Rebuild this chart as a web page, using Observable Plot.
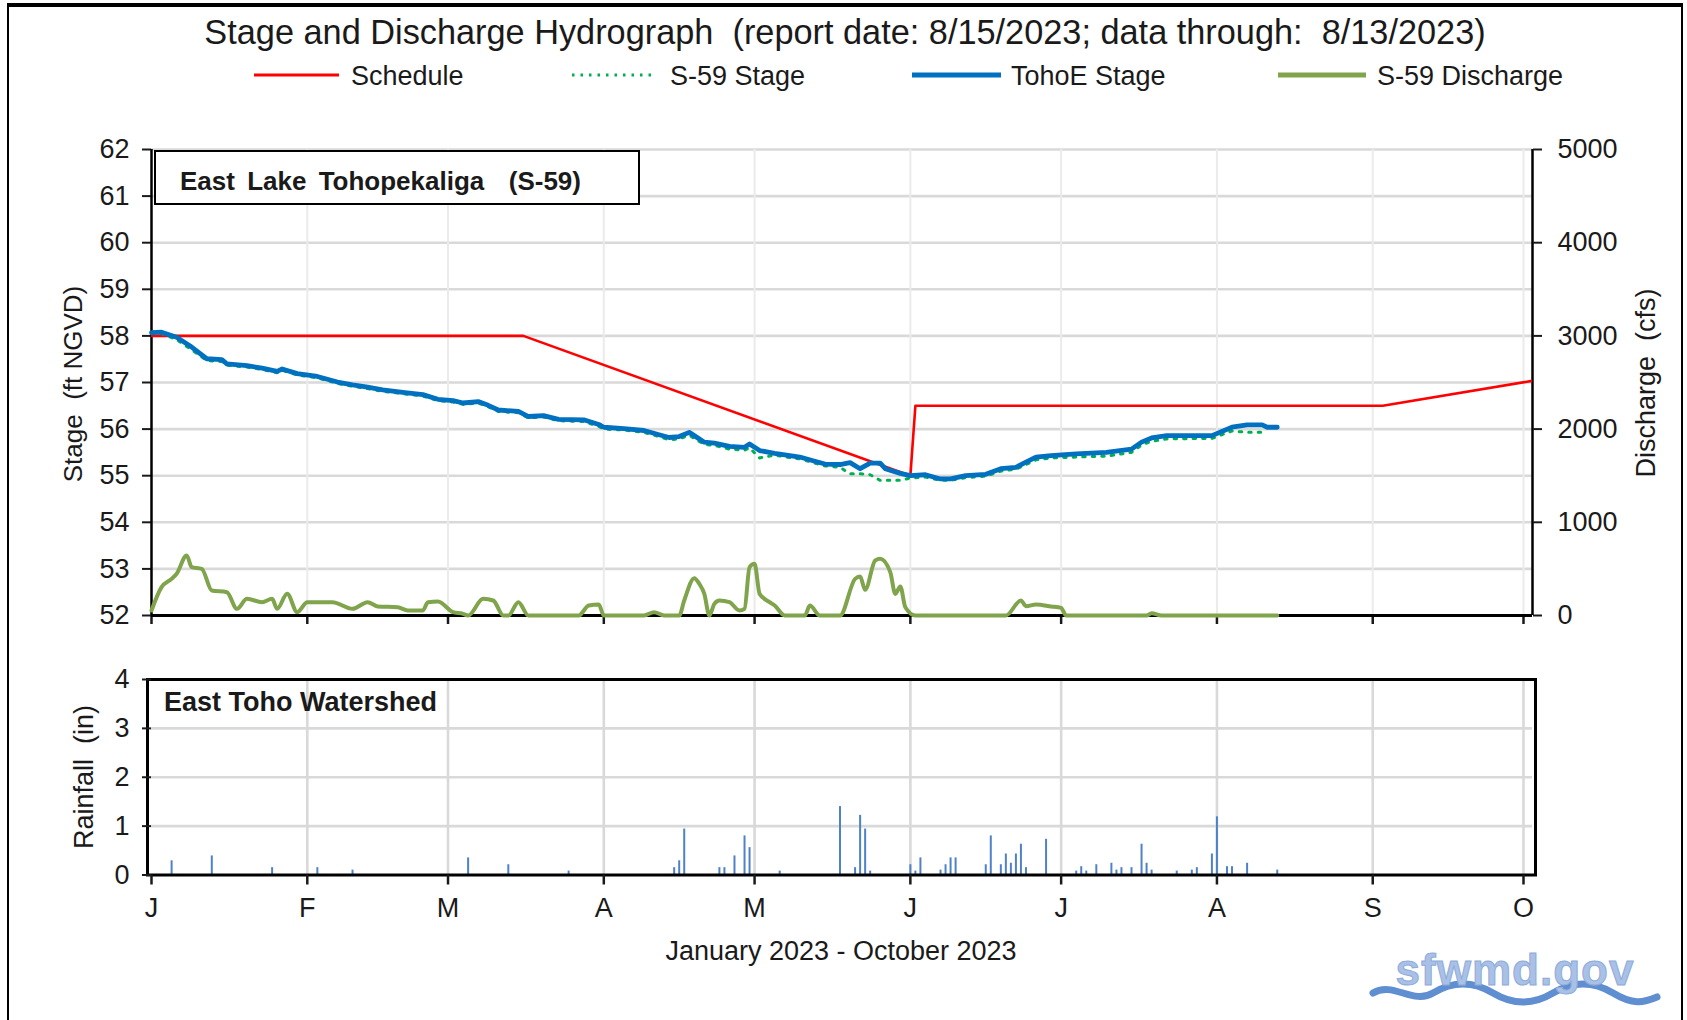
<!DOCTYPE html>
<html>
<head>
<meta charset="utf-8">
<script src="https://cdn.jsdelivr.net/npm/d3@7"></script>
<script src="https://cdn.jsdelivr.net/npm/@observablehq/plot@0.6"></script>
<style>
  html, body { margin: 0; padding: 0; background: #fff; }
  #wrap { position: relative; width: 1687px; height: 1020px; overflow: hidden; background: #fff;
          font-family: "Liberation Sans", Arial, sans-serif; color: #1a1a1a; }
  #wrap svg.plotsvg { position: absolute; left: 0; }
  .t { position: absolute; white-space: pre; line-height: 1; }
  .c { transform: translate(-50%, -50%); }
  .l { transform: translate(0, -50%); }
  .rot { transform: translate(-50%, -50%) rotate(-90deg); }
</style>
</head>
<body>
<div id="wrap"></div>
<script>
// ---------------- DATA ----------------
const YEAR = "2023";

// Regulation schedule (ft NGVD)
const scheduleDates = ["01-01", "03-16", "06-01", "06-02", "09-03", "10-03"];
const scheduleStage = [58.0, 58.0, 55.0, 56.5, 56.5, 57.04];

// Daily lake stages (ft NGVD)
const stageDates = ["01-01","01-03","01-06","01-09","01-12","01-15","01-16","01-20","01-23","01-26","01-27","01-30",
  "02-03","02-07","02-10","02-13","02-16","02-20","02-24","02-27",
  "03-02","03-04","03-07","03-09","03-11","03-15","03-17","03-20","03-23","03-28","03-31",
  "04-01","04-05","04-09","04-12","04-14","04-16","04-18","04-19","04-21","04-23","04-26","04-29","04-30",
  "05-02","05-05","05-08","05-10","05-13","05-15","05-18","05-20","05-22","05-24","05-26","05-27","05-30",
  "06-01","06-04","06-07","06-09","06-12","06-16","06-19","06-22","06-24","06-26","06-29",
  "07-04","07-10","07-15","07-17","07-19","07-22","07-31",
  "08-04","08-07","08-10","08-11","08-13"];
const tohoEStage = [58.07,58.08,57.97,57.76,57.51,57.49,57.40,57.36,57.31,57.24,57.29,57.19,
  57.13,57.01,56.95,56.90,56.84,56.79,56.74,56.64,
  56.61,56.56,56.59,56.51,56.41,56.38,56.27,56.29,56.21,56.20,56.10,
  56.04,56.01,55.97,55.88,55.82,55.84,55.93,55.86,55.72,55.70,55.63,55.61,55.68,
  55.54,55.48,55.43,55.40,55.31,55.25,55.24,55.28,55.15,55.27,55.27,55.15,55.05,
  55.00,55.02,54.93,54.93,55.00,55.03,55.15,55.18,55.29,55.40,55.43,
  55.47,55.50,55.57,55.72,55.81,55.86,55.86,
  56.04,56.09,56.09,56.04,56.04];
const s59Stage = [58.05,58.05,57.92,57.70,57.47,57.45,57.37,57.33,57.28,57.21,57.26,57.16,
  57.10,56.98,56.92,56.87,56.81,56.76,56.71,56.61,
  56.58,56.53,56.56,56.48,56.38,56.35,56.24,56.26,56.18,56.16,56.06,
  56.00,55.98,55.93,55.84,55.77,55.79,55.87,55.80,55.67,55.65,55.57,55.55,55.60,
  55.38,55.44,55.39,55.36,55.27,55.21,55.18,55.04,55.04,55.02,54.90,54.90,54.90,
  54.95,54.97,54.90,54.90,54.96,54.99,55.10,55.14,55.24,55.34,55.38,
  55.40,55.42,55.50,55.66,55.74,55.79,55.80,
  55.96,55.93,55.93,55.93,null];

// S-59 discharge (cfs)
const dischargeDates = ["01-01","01-03","01-05","01-06","01-08","01-09","01-11","01-13","01-16","01-18","01-20","01-23","01-25","01-26","01-28","01-30",
  "02-01","02-06","02-10","02-13","02-15","02-19","02-21","02-24","02-25","02-27",
  "03-02","03-04","03-05","03-08","03-10","03-12","03-13","03-15","03-17","03-27","03-29","03-31",
  "04-01","04-09","04-11","04-13","04-16","04-17","04-19","04-20","04-21","04-22","04-23","04-24","04-26","04-28","04-29","04-30",
  "05-01","05-02","05-04","05-05","05-07","05-11","05-12","05-14","05-18","05-21","05-22","05-23","05-25","05-26","05-28","05-29","05-30","05-31",
  "06-02","06-20","06-23","06-24","06-26","06-29",
  "07-01","07-02","07-18","07-19","07-21",
  "08-13"];
const dischargeCfs = [54,304,393,447,644,519,501,268,250,72,179,143,179,72,233,36,
  143,143,72,143,97,89,54,54,143,150,
  36,18,0,179,161,0,0,143,0,0,107,118,
  0,0,36,0,0,161,400,340,232,0,125,161,143,54,72,519,
  554,232,143,107,0,0,107,0,0,393,418,275,590,608,465,232,311,89,
  0,0,161,100,118,97,
  82,0,0,25,0,
  0];

// East Toho watershed daily rainfall (in)
const rainDates = ["01-05","01-13","01-25","02-03","02-10","03-05","03-13","03-25",
  "04-15","04-16","04-17","04-24","04-25","04-27","04-29","04-30",
  "05-06","05-18","05-21","05-22","05-23","05-24",
  "06-01","06-02","06-03","06-07","06-08","06-09","06-10","06-16","06-17","06-19","06-20","06-21","06-22","06-23","06-24","06-28",
  "07-04","07-05","07-06","07-08","07-11","07-12","07-13","07-15","07-17","07-18","07-19","07-24","07-27","07-28","07-31",
  "08-01","08-03","08-04","08-07","08-13"];
const rainInches = [0.29,0.39,0.15,0.15,0.10,0.35,0.21,0.08,
  0.15,0.29,0.94,0.15,0.15,0.39,0.80,0.56,
  0.08,1.40,0.15,1.22,0.94,0.08,
  0.21,0.08,0.35,0.10,0.21,0.35,0.35,0.21,0.80,0.21,0.43,0.24,0.43,0.63,0.15,0.73,
  0.08,0.17,0.08,0.21,0.24,0.10,0.15,0.15,0.63,0.24,0.10,0.08,0.10,0.15,0.43,
  1.19,0.17,0.17,0.24,0.10];

// Axis ticks
const stageTicks = [52,53,54,55,56,57,58,59,60,61,62];
const dischargeTicks = [0,1000,2000,3000,4000,5000];
const rainTicks = [0,1,2,3,4];
const monthLabels = ["J","F","M","A","M","J","J","A","S","O"];

// ---------------- TABLES ----------------
const d = s => new Date(`${YEAR}-${s}T00:00:00Z`);
const schedule = scheduleDates.map((s, i) => ({date: d(s), v: scheduleStage[i]}));
const tohoE = stageDates.map((s, i) => ({date: d(s), v: tohoEStage[i]}));
const s59 = stageDates.map((s, i) => ({date: d(s), v: s59Stage[i]}));
const discharge = dischargeDates.map((s, i) => ({date: d(s), q: dischargeCfs[i]}));
const rain = rainDates.map((s, i) => ({date: d(s), r: rainInches[i]}));
const months = d3.utcMonth.range(d("01-01"), d("10-02"));
const xDomain = [d("01-01"), new Date(`${YEAR}-10-02T19:00:00Z`)];

const W = 1687, ML = 151, MR = 155;
const FONT = '"Liberation Sans", Arial, sans-serif';
const baseStyle = {fontFamily: FONT, fontSize: "27px", color: "#1a1a1a", background: "transparent", overflow: "visible"};

// ---------------- UPPER: stage ----------------
const stagePlot = Plot.plot({
  width: W, height: 640, marginLeft: ML, marginRight: MR, marginTop: 149, marginBottom: 25,
  style: baseStyle,
  x: {type: "utc", domain: xDomain},
  y: {domain: [52, 62]},
  marks: [
    Plot.gridY(stageTicks.slice(1), {stroke: "#d9d9d9", strokeWidth: 2.6, strokeOpacity: 1}),
    Plot.gridX(months.slice(1), {stroke: "#ebebeb", strokeWidth: 2, strokeOpacity: 1}),
    Plot.axisY(stageTicks, {anchor: "left", tickSize: 9, tickPadding: 13, fontSize: 27, label: null, strokeWidth: 2}),
    Plot.axisX(months, {anchor: "bottom", tickSize: 9, tickFormat: () => "", label: null, strokeWidth: 2.5}),
    Plot.ruleX([xDomain[0]], {stroke: "#000", strokeWidth: 2.5}),
    Plot.ruleX([xDomain[1]], {stroke: "#000", strokeWidth: 2.5}),
    Plot.ruleY([52], {stroke: "#000", strokeWidth: 3}),
    Plot.line(schedule, {x: "date", y: "v", stroke: "#ff0000", strokeWidth: 2.6, clip: true}),
    Plot.line(s59, {x: "date", y: "v", stroke: "#00b050", strokeWidth: 3, strokeDasharray: "2.5,7"}),
    Plot.line(tohoE, {x: "date", y: "v", stroke: "#0070c0", strokeWidth: 4.8})
  ]
});
stagePlot.classList.add("plotsvg");
stagePlot.style.top = "0px";

// ---------------- UPPER: discharge (right axis) ----------------
const dischargePlot = Plot.plot({
  width: W, height: 640, marginLeft: ML, marginRight: MR, marginTop: 149, marginBottom: 25,
  style: baseStyle,
  x: {type: "utc", domain: xDomain, axis: null},
  y: {domain: [0, 5000]},
  marks: [
    Plot.axisY(dischargeTicks, {anchor: "right", tickSize: 9, tickPadding: 16, fontSize: 27, label: null, strokeWidth: 2,
      tickFormat: v => String(v)}),
    Plot.line(discharge, {x: "date", y: "q", stroke: "#80a44c", strokeWidth: 4, curve: "monotone-x"})
  ]
});
dischargePlot.classList.add("plotsvg");
dischargePlot.style.top = "0px";

// ---------------- LOWER: rainfall ----------------
const rainPlot = Plot.plot({
  width: W, height: 380, marginLeft: ML, marginRight: MR, marginTop: 39, marginBottom: 145.5,
  style: baseStyle,
  x: {type: "utc", domain: xDomain},
  y: {domain: [0, 4]},
  marks: [
    Plot.gridY(rainTicks.slice(1, 4), {stroke: "#d9d9d9", strokeWidth: 2.6, strokeOpacity: 1}),
    Plot.gridX(months.slice(1), {stroke: "#d9d9d9", strokeWidth: 2.6, strokeOpacity: 1}),
    Plot.ruleX(rain, {x: "date", y1: 0, y2: "r", stroke: "#4f81c7", strokeWidth: 2}),
    Plot.frame({stroke: "#000", strokeWidth: 3, insetLeft: -4, insetRight: -3}),
    Plot.axisY(rainTicks, {anchor: "left", tickSize: 9, tickPadding: 13, fontSize: 27, label: null, strokeWidth: 2}),
    Plot.axisX(months, {anchor: "bottom", tickSize: 10, tickPadding: 13, fontSize: 27, label: null, strokeWidth: 2.5,
      tickFormat: (t, i) => monthLabels[i]})
  ]
});
rainPlot.classList.add("plotsvg");
rainPlot.style.top = "640px";

const wrap = document.getElementById("wrap");
wrap.append(stagePlot, dischargePlot, rainPlot);

// ---------------- TEXT / LEGEND OVERLAYS ----------------
const html = `
<div style="position:absolute;left:7px;top:3px;width:1672px;height:1100px;border-top:4px solid #000;border-left:2px solid #000;border-right:2px solid #000;"></div>
<div class="t c" style="left:845px;top:32px;font-size:34.3px;">Stage and Discharge Hydrograph  (report date: 8/15/2023; data through:  8/13/2023)</div>

<svg style="position:absolute;left:0;top:60px" width="1687" height="30">
  <line x1="254" x2="339" y1="15" y2="15" stroke="#ff0000" stroke-width="3"/>
  <line x1="572" x2="656" y1="15" y2="15" stroke="#00b050" stroke-width="3" stroke-dasharray="2.5,6"/>
  <line x1="912" x2="1001" y1="15" y2="15" stroke="#0070c0" stroke-width="5"/>
  <line x1="1278" x2="1366" y1="15" y2="15" stroke="#80a44c" stroke-width="5"/>
</svg>
<div class="t l" style="left:351px;top:76px;font-size:27px;">Schedule</div>
<div class="t l" style="left:670px;top:76px;font-size:27px;">S-59 Stage</div>
<div class="t l" style="left:1011px;top:76px;font-size:27px;">TohoE Stage</div>
<div class="t l" style="left:1377px;top:76px;font-size:27px;">S-59 Discharge</div>

<div style="position:absolute;left:154px;top:150px;width:482px;height:51px;border:2.5px solid #000;background:#fff;"></div>
<div class="t l" style="left:180px;top:181px;font-size:26px;font-weight:bold;word-spacing:5px;">East Lake Tohopekaliga  (S-59)</div>

<div class="t rot" style="left:73px;top:384px;font-size:26px;">Stage  (ft NGVD)</div>
<div class="t rot" style="left:1646px;top:383px;font-size:27px;">Discharge  (cfs)</div>
<div class="t rot" style="left:84px;top:777px;font-size:27px;">Rainfall  (in)</div>

<div class="t l" style="left:164px;top:702px;font-size:27px;font-weight:bold;">East Toho Watershed</div>
<div class="t c" style="left:841px;top:951px;font-size:27px;">January 2023 - October 2023</div>

<svg style="position:absolute;left:1365px;top:945px" width="300" height="75">
  <path d="M8,48 C28,36 48,60 68,48 S108,36 128,48 S168,60 188,48 S228,36 248,48 S278,58 292,52" fill="none" stroke="#5f8fd0" stroke-width="7" stroke-linecap="round"/>
  <text x="150" y="40" text-anchor="middle" font-family="Liberation Sans, Arial" font-weight="bold" font-size="44" fill="#a9c1e6" stroke="#8eabd9" stroke-width="1" letter-spacing="1">sfwmd.gov</text>
</svg>
`;
wrap.insertAdjacentHTML("beforeend", html);
</script>
</body>
</html>
